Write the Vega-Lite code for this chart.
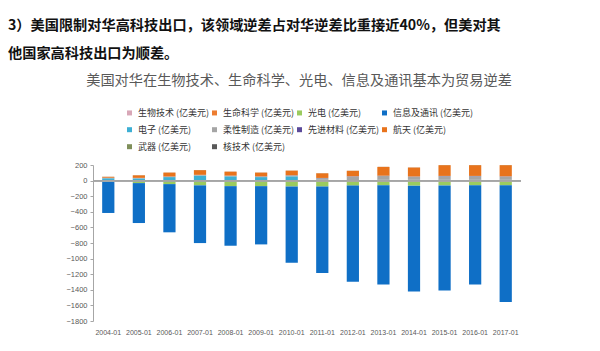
{
"$schema": "https://vega.github.io/schema/vega-lite/v6.json",
"width": 428, "height": 156,
"autosize": {"type": "none"},
"padding": {"left": 93, "top": 165, "right": 79, "bottom": 30},
"background": "white",
"config": {"view": {"stroke": null}, "font": "Noto Sans CJK SC",
  "axisY": {"labelOverlap": false, "labelFont": "Liberation Sans", "labelFontSize": 7.5, "labelColor": "#595959", "grid": false, "domainColor": "#A6A6A6", "tickColor": "#A6A6A6", "tickSize": 3, "labelPadding": 3, "title": null},
  "axisX": {"labelFont": "Liberation Sans", "labelFontSize": 7, "labelColor": "#595959", "labelAngle": 0, "domain": false, "ticks": false, "labelPadding": 7, "title": null}},
"title": {"text": ["3）美国限制对华高科技出口，该领域逆差占对华逆差比重接近40%，但美对其", "他国家高科技出口为顺差。"], "anchor": "start", "frame": "group", "dx": -85, "offset": 13, "fontSize": 14.2, "fontWeight": "bold", "font": "Noto Sans CJK SC", "color": "#111111", "lineHeight": 28},
"datasets": {"seriesorder": [
{"series":"生物技术 (亿美元)","rank":0},{"series":"生命科学 (亿美元)","rank":1},{"series":"光电 (亿美元)","rank":2},{"series":"信息及通讯 (亿美元)","rank":3},{"series":"电子 (亿美元)","rank":4},{"series":"柔性制造 (亿美元)","rank":5},{"series":"先进材料 (亿美元)","rank":6},{"series":"航天 (亿美元)","rank":7},{"series":"武器 (亿美元)","rank":8},{"series":"核技术 (亿美元)","rank":9}
]},
"data": {"values": [
{"year":"2004-01","series":"生物技术 (亿美元)","value":-1},{"year":"2004-01","series":"生命科学 (亿美元)","value":-3},{"year":"2004-01","series":"光电 (亿美元)","value":-8},{"year":"2004-01","series":"信息及通讯 (亿美元)","value":-403},{"year":"2004-01","series":"电子 (亿美元)","value":30},{"year":"2004-01","series":"柔性制造 (亿美元)","value":5},{"year":"2004-01","series":"先进材料 (亿美元)","value":2},{"year":"2004-01","series":"航天 (亿美元)","value":12},{"year":"2004-01","series":"武器 (亿美元)","value":0.5},{"year":"2004-01","series":"核技术 (亿美元)","value":0.5},
{"year":"2005-01","series":"生物技术 (亿美元)","value":-1},{"year":"2005-01","series":"生命科学 (亿美元)","value":-3},{"year":"2005-01","series":"光电 (亿美元)","value":-28},{"year":"2005-01","series":"信息及通讯 (亿美元)","value":-512},{"year":"2005-01","series":"电子 (亿美元)","value":28},{"year":"2005-01","series":"柔性制造 (亿美元)","value":5},{"year":"2005-01","series":"先进材料 (亿美元)","value":2},{"year":"2005-01","series":"航天 (亿美元)","value":33},{"year":"2005-01","series":"武器 (亿美元)","value":0.5},{"year":"2005-01","series":"核技术 (亿美元)","value":0.5},
{"year":"2006-01","series":"生物技术 (亿美元)","value":-1},{"year":"2006-01","series":"生命科学 (亿美元)","value":-4},{"year":"2006-01","series":"光电 (亿美元)","value":-40},{"year":"2006-01","series":"信息及通讯 (亿美元)","value":-618},{"year":"2006-01","series":"电子 (亿美元)","value":45},{"year":"2006-01","series":"柔性制造 (亿美元)","value":6},{"year":"2006-01","series":"先进材料 (亿美元)","value":2},{"year":"2006-01","series":"航天 (亿美元)","value":50},{"year":"2006-01","series":"武器 (亿美元)","value":0.5},{"year":"2006-01","series":"核技术 (亿美元)","value":0.5},
{"year":"2007-01","series":"生物技术 (亿美元)","value":-1},{"year":"2007-01","series":"生命科学 (亿美元)","value":-5},{"year":"2007-01","series":"光电 (亿美元)","value":-55},{"year":"2007-01","series":"信息及通讯 (亿美元)","value":-740},{"year":"2007-01","series":"电子 (亿美元)","value":64},{"year":"2007-01","series":"柔性制造 (亿美元)","value":8},{"year":"2007-01","series":"先进材料 (亿美元)","value":2},{"year":"2007-01","series":"航天 (亿美元)","value":60},{"year":"2007-01","series":"武器 (亿美元)","value":0.5},{"year":"2007-01","series":"核技术 (亿美元)","value":0.5},
{"year":"2008-01","series":"生物技术 (亿美元)","value":-1},{"year":"2008-01","series":"生命科学 (亿美元)","value":-5},{"year":"2008-01","series":"光电 (亿美元)","value":-65},{"year":"2008-01","series":"信息及通讯 (亿美元)","value":-764},{"year":"2008-01","series":"电子 (亿美元)","value":55},{"year":"2008-01","series":"柔性制造 (亿美元)","value":7},{"year":"2008-01","series":"先进材料 (亿美元)","value":2},{"year":"2008-01","series":"航天 (亿美元)","value":51},{"year":"2008-01","series":"武器 (亿美元)","value":0.5},{"year":"2008-01","series":"核技术 (亿美元)","value":0.5},
{"year":"2009-01","series":"生物技术 (亿美元)","value":-1},{"year":"2009-01","series":"生命科学 (亿美元)","value":-5},{"year":"2009-01","series":"光电 (亿美元)","value":-65},{"year":"2009-01","series":"信息及通讯 (亿美元)","value":-747},{"year":"2009-01","series":"电子 (亿美元)","value":45},{"year":"2009-01","series":"柔性制造 (亿美元)","value":8},{"year":"2009-01","series":"先进材料 (亿美元)","value":2},{"year":"2009-01","series":"航天 (亿美元)","value":48},{"year":"2009-01","series":"武器 (亿美元)","value":0.5},{"year":"2009-01","series":"核技术 (亿美元)","value":0.5},
{"year":"2010-01","series":"生物技术 (亿美元)","value":-1},{"year":"2010-01","series":"生命科学 (亿美元)","value":-6},{"year":"2010-01","series":"光电 (亿美元)","value":-68},{"year":"2010-01","series":"信息及通讯 (亿美元)","value":-979},{"year":"2010-01","series":"电子 (亿美元)","value":55},{"year":"2010-01","series":"柔性制造 (亿美元)","value":12},{"year":"2010-01","series":"先进材料 (亿美元)","value":2},{"year":"2010-01","series":"航天 (亿美元)","value":59},{"year":"2010-01","series":"武器 (亿美元)","value":0.5},{"year":"2010-01","series":"核技术 (亿美元)","value":0.5},
{"year":"2011-01","series":"生物技术 (亿美元)","value":-2},{"year":"2011-01","series":"生命科学 (亿美元)","value":-6},{"year":"2011-01","series":"光电 (亿美元)","value":-68},{"year":"2011-01","series":"信息及通讯 (亿美元)","value":-1109},{"year":"2011-01","series":"电子 (亿美元)","value":10},{"year":"2011-01","series":"柔性制造 (亿美元)","value":22},{"year":"2011-01","series":"先进材料 (亿美元)","value":2},{"year":"2011-01","series":"航天 (亿美元)","value":60},{"year":"2011-01","series":"武器 (亿美元)","value":0.5},{"year":"2011-01","series":"核技术 (亿美元)","value":0.5},
{"year":"2012-01","series":"生物技术 (亿美元)","value":-2},{"year":"2012-01","series":"生命科学 (亿美元)","value":-7},{"year":"2012-01","series":"光电 (亿美元)","value":-55},{"year":"2012-01","series":"信息及通讯 (亿美元)","value":-1234},{"year":"2012-01","series":"电子 (亿美元)","value":8},{"year":"2012-01","series":"柔性制造 (亿美元)","value":45},{"year":"2012-01","series":"先进材料 (亿美元)","value":3},{"year":"2012-01","series":"航天 (亿美元)","value":70},{"year":"2012-01","series":"武器 (亿美元)","value":0.5},{"year":"2012-01","series":"核技术 (亿美元)","value":0.5},
{"year":"2013-01","series":"生物技术 (亿美元)","value":-2},{"year":"2013-01","series":"生命科学 (亿美元)","value":-8},{"year":"2013-01","series":"光电 (亿美元)","value":-50},{"year":"2013-01","series":"信息及通讯 (亿美元)","value":-1272},{"year":"2013-01","series":"电子 (亿美元)","value":10},{"year":"2013-01","series":"柔性制造 (亿美元)","value":50},{"year":"2013-01","series":"先进材料 (亿美元)","value":3},{"year":"2013-01","series":"航天 (亿美元)","value":113},{"year":"2013-01","series":"武器 (亿美元)","value":0.5},{"year":"2013-01","series":"核技术 (亿美元)","value":0.5},
{"year":"2014-01","series":"生物技术 (亿美元)","value":-2},{"year":"2014-01","series":"生命科学 (亿美元)","value":-8},{"year":"2014-01","series":"光电 (亿美元)","value":-55},{"year":"2014-01","series":"信息及通讯 (亿美元)","value":-1357},{"year":"2014-01","series":"电子 (亿美元)","value":10},{"year":"2014-01","series":"柔性制造 (亿美元)","value":40},{"year":"2014-01","series":"先进材料 (亿美元)","value":3},{"year":"2014-01","series":"航天 (亿美元)","value":115},{"year":"2014-01","series":"武器 (亿美元)","value":0.5},{"year":"2014-01","series":"核技术 (亿美元)","value":0.5},
{"year":"2015-01","series":"生物技术 (亿美元)","value":-2},{"year":"2015-01","series":"生命科学 (亿美元)","value":-8},{"year":"2015-01","series":"光电 (亿美元)","value":-52},{"year":"2015-01","series":"信息及通讯 (亿美元)","value":-1347},{"year":"2015-01","series":"电子 (亿美元)","value":10},{"year":"2015-01","series":"柔性制造 (亿美元)","value":47},{"year":"2015-01","series":"先进材料 (亿美元)","value":3},{"year":"2015-01","series":"航天 (亿美元)","value":138},{"year":"2015-01","series":"武器 (亿美元)","value":0.5},{"year":"2015-01","series":"核技术 (亿美元)","value":0.5},
{"year":"2016-01","series":"生物技术 (亿美元)","value":-2},{"year":"2016-01","series":"生命科学 (亿美元)","value":-8},{"year":"2016-01","series":"光电 (亿美元)","value":-50},{"year":"2016-01","series":"信息及通讯 (亿美元)","value":-1272},{"year":"2016-01","series":"电子 (亿美元)","value":10},{"year":"2016-01","series":"柔性制造 (亿美元)","value":47},{"year":"2016-01","series":"先进材料 (亿美元)","value":3},{"year":"2016-01","series":"航天 (亿美元)","value":138},{"year":"2016-01","series":"武器 (亿美元)","value":0.5},{"year":"2016-01","series":"核技术 (亿美元)","value":0.5},
{"year":"2017-01","series":"生物技术 (亿美元)","value":-2},{"year":"2017-01","series":"生命科学 (亿美元)","value":-8},{"year":"2017-01","series":"光电 (亿美元)","value":-50},{"year":"2017-01","series":"信息及通讯 (亿美元)","value":-1495},{"year":"2017-01","series":"电子 (亿美元)","value":10},{"year":"2017-01","series":"柔性制造 (亿美元)","value":42},{"year":"2017-01","series":"先进材料 (亿美元)","value":3},{"year":"2017-01","series":"航天 (亿美元)","value":143},{"year":"2017-01","series":"武器 (亿美元)","value":0.5},{"year":"2017-01","series":"核技术 (亿美元)","value":0.5}
]},
"layer": [
{"transform": [{"lookup": "series", "from": {"data": {"name": "seriesorder"}, "key": "series", "fields": ["rank"]}}],
 "mark": {"type": "bar"},
 "encoding": {
  "x": {"field": "year", "type": "ordinal", "scale": {"paddingInner": 0.6, "paddingOuter": 0.3}},
  "y": {"field": "value", "type": "quantitative", "stack": "zero", "scale": {"domain": [-1800, 200], "nice": false},
        "axis": {"values": [200, 0, -200, -400, -600, -800, -1000, -1200, -1400, -1600, -1800], "format": "d", "labelOverlap": false}},
  "order": {"field": "rank", "type": "quantitative", "sort": "ascending"},
  "color": {"field": "series", "type": "nominal",
        "scale": {"domain": ["生物技术 (亿美元)", "生命科学 (亿美元)", "光电 (亿美元)", "信息及通讯 (亿美元)", "电子 (亿美元)", "柔性制造 (亿美元)", "先进材料 (亿美元)", "航天 (亿美元)", "武器 (亿美元)", "核技术 (亿美元)"],
                  "range": ["#D8A7B7", "#ED7D31", "#9BCB5F", "#0F6FC6", "#3DAFD4", "#A5A5A5", "#5B4A9A", "#E8731C", "#7F8F5A", "#595959"]},
        "legend": {"orient": "none", "legendX": -7, "legendY": -91, "columns": 4, "direction": "horizontal", "gridAlign": "each",
                   "title": "美国对华在生物技术、生命科学、光电、信息及通讯基本为贸易逆差", "titleFontSize": 14.2, "titleFontWeight": "normal", "titleColor": "#595959", "titleFont": "Noto Sans CJK SC", "titleAnchor": "middle", "titlePadding": 20, "titleLimit": 600,
                   "labelFont": "Noto Sans CJK SC", "labelFontSize": 9, "labelColor": "#333333", "labelLimit": 200,
                   "symbolType": "square", "symbolSize": 25, "symbolStrokeWidth": 0, "rowPadding": 7, "columnPadding": 0}}
 }},
{"mark": {"type": "rule", "color": "#A6A6A6", "strokeWidth": 1}, "encoding": {"y": {"datum": 0, "axis": {"values": [200, 0, -200, -400, -600, -800, -1000, -1200, -1400, -1600, -1800], "format": "d", "labelOverlap": false}}}}
]
}
